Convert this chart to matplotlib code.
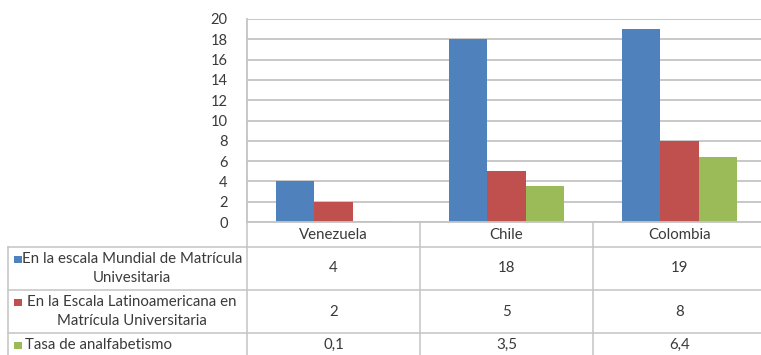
import numpy as np
import matplotlib
matplotlib.use("Agg")
import matplotlib.pyplot as plt

# datos
paises = ["Venezuela", "Chile", "Colombia"]
series = ["En la escala Mundial de Matrícula\nUnivesitaria",
          "En la Escala Latinoamericana en\nMatrícula Universitaria",
          "Tasa de analfabetismo"]
mundial = [4, 18, 19]
latam = [2, 5, 8]
analfabetismo = [0.1, 3.5, 6.4]
valores = [mundial, latam, analfabetismo]
colores = ["#4f81bd", "#c0504d", "#9bbb59"]

plt.rcParams['font.family'] = ['Lato', 'DejaVu Sans']
txt = "#3a3a3a"
gris = "#c4c4c4"
fs = 10.8

W, H = 761, 355
fig = plt.figure(figsize=(W / 100, H / 100), dpi=100)

# zona del grafico en pixeles
x0, ytop, ybot = 247, 19, 222
cw = 173  # ancho de cada categoria
ax = fig.add_axes([x0 / W, 1 - ybot / H, 3 * cw / W, (ybot - ytop) / H])

x = np.arange(len(paises))
w = 1 / 4.5
for i, (vals, c) in enumerate(zip(valores, colores)):
    ax.bar(x + (i - 1) * w, vals, w, color=c, zorder=2)

ax.set_xlim(-0.5, len(paises) - 0.5)
ax.set_ylim(0, 20)
ax.set_yticks(np.arange(0, 21, 2))
ax.set_xticks([])
ax.tick_params(axis='y', length=0, pad=14, labelsize=10.5, labelcolor=txt)
ax.yaxis.grid(True, color=gris, linewidth=1.3)
ax.set_axisbelow(True)
for s in ["top", "right"]:
    ax.spines[s].set_visible(False)
for s in ["left", "bottom"]:
    ax.spines[s].set_color(gris)
    ax.spines[s].set_linewidth(1.3)

# tabla de datos debajo del grafico (coordenadas en pixeles)
tb = fig.add_axes([0, 0, 1, 1], zorder=3)
tb.set_xlim(0, W)
tb.set_ylim(H, 0)
tb.axis("off")
tb.patch.set_alpha(0)

filas = [247, 290, 333, 378]
xl = 8
bordes = [x0 + cw * k for k in range(len(paises) + 1)]
lw = 1.1

for yy in filas[:-1]:
    tb.plot([xl, bordes[-1]], [yy, yy], color=gris, lw=lw)
tb.plot([xl, xl], [filas[0], H + 5], color=gris, lw=lw)
for bx in bordes:
    tb.plot([bx, bx], [ybot, H + 5], color=gris, lw=lw)

# encabezado con los paises
for k, p in enumerate(paises):
    tb.text((bordes[k] + bordes[k + 1]) / 2, (ybot + filas[0]) / 2 + 0.5, p,
            ha="center", va="center", fontsize=fs, color=txt)

# filas de la serie con su clave de color
for i, (nombre, vals, c) in enumerate(zip(series, valores, colores)):
    ya, yb = filas[i], filas[i + 1]
    yc = (ya + yb) / 2 if i < 2 else 345
    nlin = nombre.count("\n") + 1
    ykey = yc - (nlin - 1) * 9.5
    tb.add_patch(plt.Rectangle((14, ykey - 3.5), 7.5, 7, color=c, lw=0))
    if nlin > 1:
        tb.text(132, yc, nombre, ha="center", va="center", ma="center",
                fontsize=fs, color=txt, linespacing=1.5)
    else:
        tb.text(25, yc, nombre, ha="left", va="center", fontsize=fs, color=txt)
    for k, v in enumerate(vals):
        tb.text((bordes[k] + bordes[k + 1]) / 2, yc, f"{v:g}".replace(".", ","),
                ha="center", va="center", fontsize=fs, color=txt)

fig.savefig("out.png", dpi=100)
